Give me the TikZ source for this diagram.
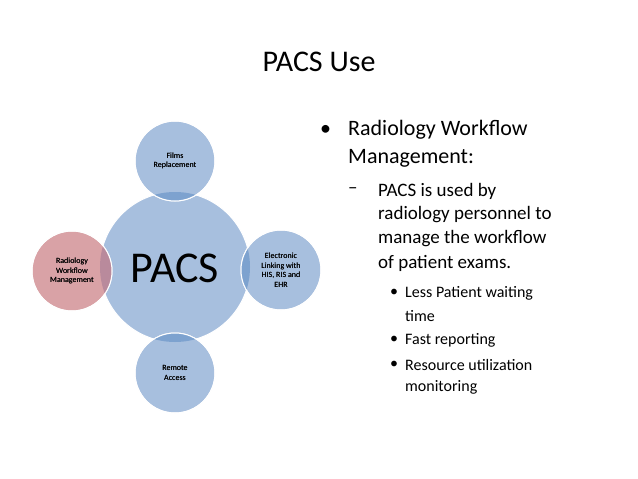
\documentclass[tikz,border=0pt]{standalone}
\usepackage{fontspec}
\setmainfont{Carlito}
\definecolor{cb}{HTML}{A7BFDE}
\definecolor{cbd}{HTML}{7DA2CF}
\definecolor{cp}{HTML}{D9A2A6}
\definecolor{cpd}{HTML}{B98A9C}
\begin{document}
\begin{tikzpicture}[x=1pt,y=-1pt,
 sat/.style={circle,minimum size=80pt,inner sep=0pt,fill=cb,draw=white,line width=1pt,align=center,font=\fontsize{8}{9.5}\selectfont},
 lt/.style={anchor=west,inner sep=0pt,align=left}]
\useasboundingbox (0,0) rectangle (638,479);
\node[circle,minimum size=150pt,inner sep=0pt,fill=cb,draw=white,line width=1pt] (c) at (175,267) {};
\node[sat] (t) at (175,161) {Films\\Replacement};
\node[sat,fill=cp] (l) at (72,271) {Radiology\\Workflow\\Management};
\node[sat] (r) at (281,270) {Electronic\\Linking with\\HIS, RIS and\\EHR};
\node[sat] (b) at (175,373) {Remote\\Access};
\begin{scope}\clip (175,267) circle (75);\fill[cbd] (175,161) circle (40);\fill[cpd] (72,271) circle (40);\fill[cbd] (281,270) circle (40);\fill[cbd] (175,373) circle (40);\end{scope}
\draw[white,line width=1pt] (175,161) circle (40) (72,271) circle (40) (281,270) circle (40) (175,373) circle (40);
\node[font=\fontsize{8}{9.5}\selectfont,align=center] at (t) {Films\\Replacement};
\node[font=\fontsize{8}{9.5}\selectfont,align=center] at (l) {Radiology\\Workflow\\Management};
\node[font=\fontsize{8}{9.5}\selectfont,align=center] at (r) {Electronic\\Linking with\\HIS, RIS and\\EHR};
\node[font=\fontsize{8}{9.5}\selectfont,align=center] at (b) {Remote\\Access};
\node[font=\fontsize{44}{44}\selectfont] (pl) at (175,268) {PACS};
\node[font=\fontsize{30}{30}\selectfont] (title) at (319,62) {PACS Use};
\begin{scope}[font=\fontsize{22}{25}\selectfont]
\node[lt] (b1) at (320,130) {•};
\node[lt] (t1) at (348,130) {Radiology Workflow};
\node[lt] (t2) at (348,158) {Management:};
\end{scope}
\begin{scope}[font=\fontsize{19}{22}\selectfont]
\node[lt] (d1) at (348,191) {–};
\node[lt] (s1) at (378,191) {PACS is used by};
\node[lt] (s2) at (378,215) {radiology personnel to};
\node[lt] (s3) at (378,239) {manage the workflow};
\node[lt] (s4) at (378,263) {of patient exams.};
\end{scope}
\begin{scope}[font=\fontsize{16}{19}\selectfont]
\node[lt] (e1) at (390,293) {•};\node[lt] (f1) at (405,293) {Less Patient waiting};
\node[lt] (f1b) at (405,316) {time};
\node[lt] (e2) at (390,340) {•};\node[lt] (f2) at (405,340) {Fast reporting};
\node[lt] (e3) at (390,365) {•};\node[lt] (f3) at (405,365) {Resource utilization};
\node[lt] (f3b) at (405,387) {monitoring};
\end{scope}
\end{tikzpicture}
\end{document}
